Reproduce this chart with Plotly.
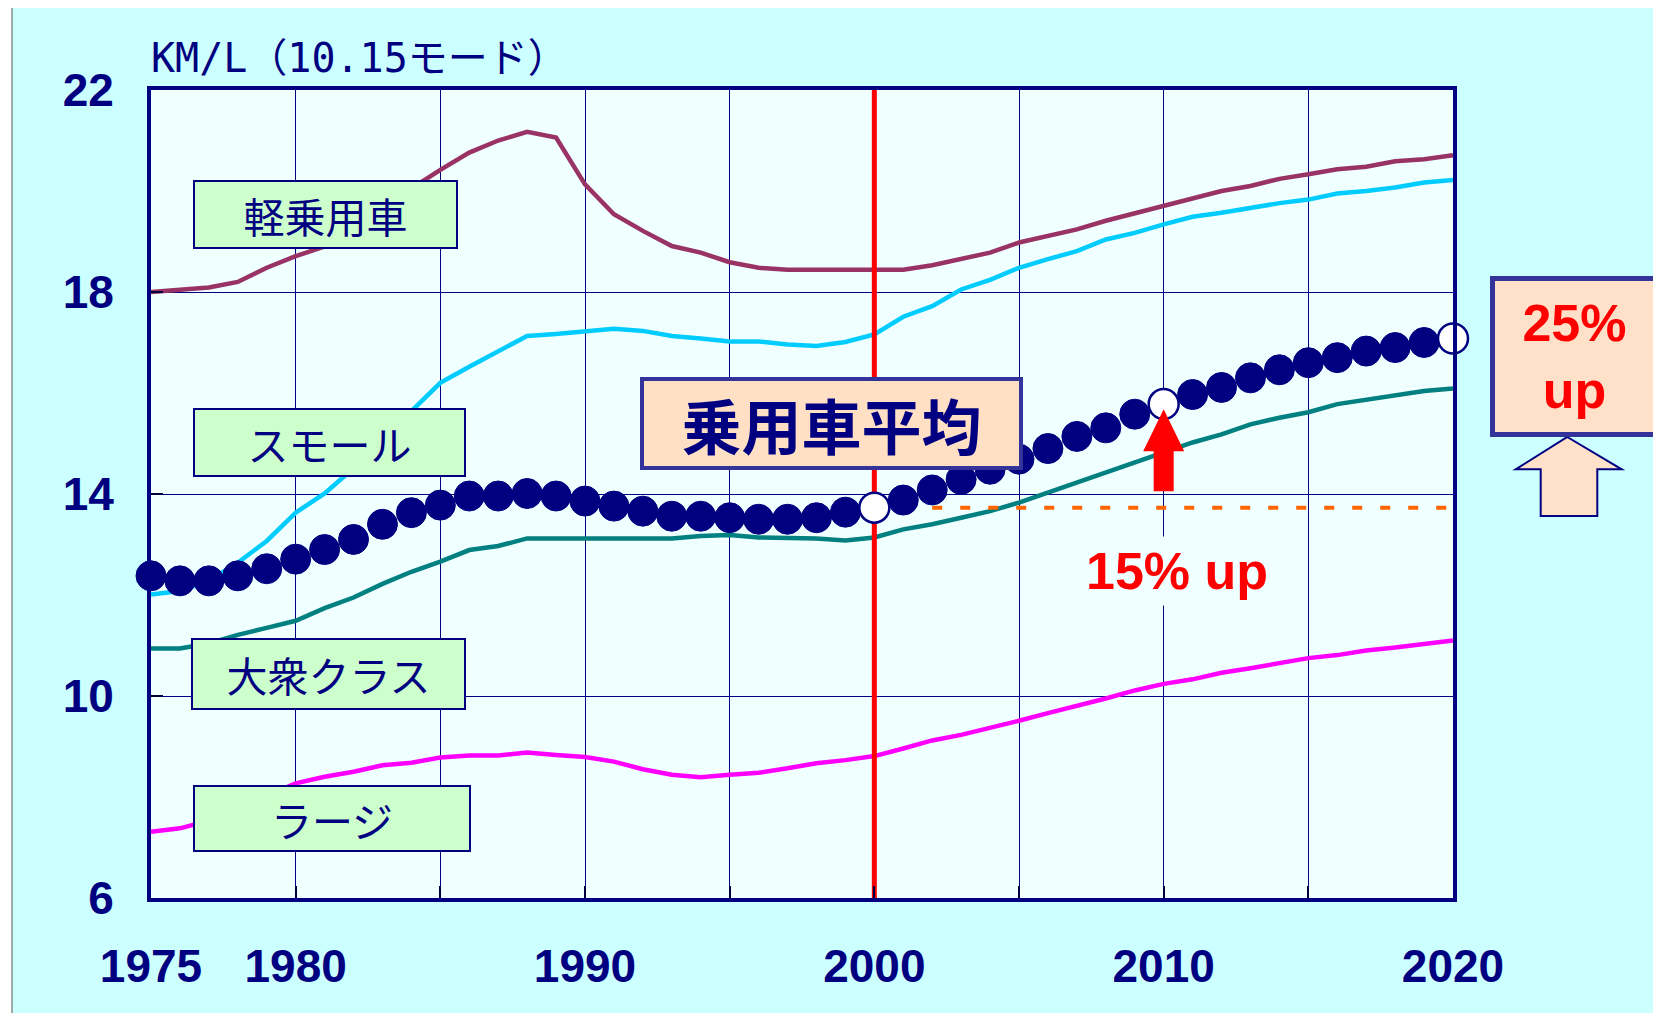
import plotly.graph_objects as go

# ---- data (km/L, 10.15 mode) ----
years = list(range(1975, 2021))

kei = [18.0, 18.04, 18.09, 18.2, 18.48, 18.71, 18.9, 19.3, 19.7, 20.05,
       20.42, 20.76, 21.0, 21.17, 21.06, 20.13, 19.54, 19.21, 18.91, 18.78,
       18.59, 18.48, 18.44, 18.44, 18.44, 18.44, 18.44, 18.53, 18.65, 18.78,
       18.98, 19.11, 19.24, 19.41, 19.56, 19.7, 19.85, 20.0, 20.1, 20.24,
       20.33, 20.43, 20.48, 20.59, 20.63, 20.71]

small = [12.01, 12.08, 12.28, 12.64, 13.07, 13.63, 14.01, 14.51, 15.08, 15.65,
         16.2, 16.52, 16.83, 17.13, 17.17, 17.21, 17.27, 17.23, 17.13, 17.08,
         17.02, 17.02, 16.96, 16.93, 17.01, 17.16, 17.51, 17.72, 18.05, 18.24,
         18.48, 18.65, 18.81, 19.04, 19.17, 19.34, 19.49, 19.57, 19.67, 19.76,
         19.83, 19.95, 20.0, 20.07, 20.17, 20.22]

taishu = [10.94, 10.94, 11.04, 11.21, 11.35, 11.49, 11.74, 11.95, 12.22, 12.46,
          12.66, 12.89, 12.97, 13.12, 13.12, 13.12, 13.12, 13.12, 13.12, 13.17,
          13.19, 13.14, 13.14, 13.12, 13.08, 13.14, 13.3, 13.4, 13.53, 13.66,
          13.83, 14.03, 14.22, 14.42, 14.62, 14.82, 15.02, 15.18, 15.38, 15.51,
          15.62, 15.78, 15.86, 15.95, 16.04, 16.09]

large = [7.31, 7.38, 7.53, 7.78, 8.02, 8.27, 8.4, 8.5, 8.63, 8.68,
         8.78, 8.82, 8.82, 8.88, 8.83, 8.79, 8.7, 8.55, 8.44, 8.39,
         8.44, 8.48, 8.57, 8.67, 8.73, 8.81, 8.96, 9.12, 9.23, 9.36,
         9.51, 9.66, 9.8, 9.95, 10.11, 10.24, 10.33, 10.46, 10.55, 10.65,
         10.75, 10.81, 10.9, 10.96, 11.04, 11.1]

average = [12.38, 12.28, 12.28, 12.38, 12.52, 12.71, 12.9, 13.1, 13.4, 13.63,
           13.78, 13.96, 13.96, 14.01, 13.96, 13.86, 13.76, 13.66, 13.56, 13.56,
           13.53, 13.5, 13.5, 13.53, 13.64, 13.73, 13.88, 14.08, 14.29, 14.49,
           14.69, 14.9, 15.14, 15.31, 15.58, 15.78, 15.97, 16.11, 16.3, 16.46,
           16.6, 16.7, 16.83, 16.9, 17.0, 17.08]

highlight_years = [2000, 2010, 2020]
base_year = 2000
dotted_from = 2002

grid_years = [1975, 1980, 1985, 1990, 1995, 2000, 2005, 2010, 2015, 2020]
year_labels = ['1975', '1980', '', '1990', '', '2000', '', '2010', '', '2020']
y_ticks = [6, 10, 14, 18, 22]

NAVY = '#000080'
W, H = 1661, 1013
BODY = 8  # page body margin around the plot div
PX_L, PX_R, PX_T, PX_B = 151, 1453, 90, 898  # plot area on screen
YEAR_PX = (PX_R - PX_L) / 45.0
VAL_PX = (PX_B - PX_T) / 16.0


def px_x(px):
    return (px - PX_L) / (PX_R - PX_L)


def px_y(py):
    return (PX_B - py) / (PX_B - PX_T)


avg_at = dict(zip(years, average))
base_val = avg_at[base_year]

fig = go.Figure()
for name, vals, col in [('軽乗用車', kei, '#993366'),
                        ('スモール', small, '#00CCFF'),
                        ('大衆クラス', taishu, '#008080'),
                        ('ラージ', large, '#FF00FF')]:
    fig.add_trace(go.Scatter(x=years, y=vals, name=name, mode='lines',
                             line=dict(color=col, width=4.5)))

# red line at 2000
fig.add_trace(go.Scatter(x=[base_year, base_year], y=[y_ticks[0], y_ticks[-1]],
                         mode='lines', line=dict(color='#FF0000', width=5),
                         hoverinfo='skip'))
# dotted level of the 2000 average
fig.add_trace(go.Scatter(x=[dotted_from, years[-1]], y=[base_val, base_val],
                         mode='lines', line=dict(color='#FF6600', width=4, dash='10px,18px'),
                         hoverinfo='skip'))

fig.add_trace(go.Scatter(x=years, y=average, name='乗用車平均', mode='markers',
                         cliponaxis=False,
                         marker=dict(size=30, color=NAVY, line=dict(color=NAVY, width=1))))
fig.add_trace(go.Scatter(x=highlight_years, y=[avg_at[y] for y in highlight_years],
                         mode='markers', cliponaxis=False,
                         marker=dict(size=30, color='white', line=dict(color=NAVY, width=2.5))))

axis_common = dict(showgrid=True, gridcolor=NAVY, gridwidth=1, zeroline=False,
                   showline=True, linecolor=NAVY, linewidth=4, mirror=True,
                   ticks='inside', ticklen=12, tickwidth=2, tickcolor='#000040',
                   tickfont=dict(family='Arial, Liberation Sans', size=46, color=NAVY,
                                 weight='bold'))
fig.update_xaxes(range=[years[0], years[-1]], tickvals=grid_years, ticktext=year_labels,
                 ticklabelstandoff=25, **axis_common)
fig.update_yaxes(range=[y_ticks[0], y_ticks[-1]], tickvals=y_ticks,
                 ticklabelstandoff=24, **axis_common)

annos = []
annos.append(dict(text='KM/L（10.15モード）', xref='paper', yref='paper',
                  x=px_x(149), y=px_y(58), xanchor='left', yanchor='middle',
                  showarrow=False,
                  font=dict(family='DejaVu Sans Mono, Noto Sans CJK JP', size=40, color=NAVY)))

for txt, cx, cy, bw, bh in [('軽乗用車', 325.5, 214.5, 265, 69),
                            ('スモール', 329.3, 442.8, 273, 69),
                            ('大衆クラス', 328.2, 674.2, 275, 72),
                            ('ラージ', 331.5, 818.3, 278, 67)]:
    annos.append(dict(text=txt, xref='paper', yref='paper', x=px_x(cx), y=px_y(cy),
                      xanchor='center', yanchor='middle', showarrow=False,
                      width=bw - 4, height=bh - 4, align='center', valign='middle',
                      bgcolor='#CCFFCC', bordercolor=NAVY, borderwidth=2, borderpad=0,
                      font=dict(family='Noto Sans CJK JP', size=41, color=NAVY)))

annos.append(dict(text='<b>乗用車平均</b>', xref='paper', yref='paper',
                  x=px_x(831.5), y=px_y(423.5), xanchor='center', yanchor='middle',
                  showarrow=False, width=375, height=85, align='center', valign='middle',
                  bgcolor='#FFE0C4', bordercolor='#333399', borderwidth=4, borderpad=0,
                  font=dict(family='Noto Sans CJK JP', size=60, color=NAVY)))

annos.append(dict(text='<b>15% up</b>', xref='paper', yref='paper',
                  x=px_x(1177), y=px_y(571), xanchor='center', yanchor='middle',
                  showarrow=False, width=230, height=66, bgcolor='#F0FFFF',
                  font=dict(family='Arial, Liberation Sans', size=52, color='#FF0000')))

annos.append(dict(text='<b>25%<br>up</b>', xref='paper', yref='paper',
                  x=px_x(1574.5), y=px_y(357), xanchor='center', yanchor='middle',
                  showarrow=False, width=159, height=151, align='center', valign='middle',
                  bgcolor='#FFE0C8', bordercolor='#333399', borderwidth=5, borderpad=0,
                  font=dict(family='Arial, Liberation Sans', size=52, color='#FF0000')))

shapes = []
# white page margin on the left and thin frame
shapes.append(dict(type='rect', xref='paper', yref='paper', x0=px_x(-20), x1=px_x(12),
                   y0=px_y(H + 20), y1=px_y(-20), fillcolor='white', line=dict(width=0),
                   layer='below'))
shapes.append(dict(type='line', xref='paper', yref='paper', x0=px_x(12), x1=px_x(12),
                   y0=px_y(BODY), y1=px_y(H + 20), line=dict(color='#555555', width=1)))

# red up arrow at 2010
ax = highlight_years[1]
tip = avg_at[ax] - 0.1
head = tip - 42 / VAL_PX
bottom = tip - 82 / VAL_PX
hs, hh = 10 / YEAR_PX, 20.5 / YEAR_PX
shapes.append(dict(type='path', xref='x', yref='y', layer='above',
                   path=(f'M {ax - hs},{bottom} L {ax - hs},{head} L {ax - hh},{head} '
                         f'L {ax},{tip} L {ax + hh},{head} L {ax + hs},{head} '
                         f'L {ax + hs},{bottom} Z'),
                   fillcolor='#FF0000', line=dict(width=0)))

# hollow arrow under 25% box
pts = [(1567.3, 437), (1621.7, 469.3), (1597.3, 469.3), (1597.3, 516),
       (1540.7, 516), (1540.7, 469.3), (1515.7, 469.3)]
path = 'M ' + ' L '.join(f'{px_x(a)},{px_y(b)}' for a, b in pts) + ' Z'
shapes.append(dict(type='path', xref='paper', yref='paper', path=path,
                   fillcolor='#FFE0C8', line=dict(color=NAVY, width=2)))

fig.update_layout(width=W, height=H,
                  margin=dict(l=PX_L - BODY, r=W - (PX_R - BODY),
                              t=PX_T - BODY, b=H - (PX_B - BODY), pad=0),
                  paper_bgcolor='#CCFFFF', plot_bgcolor='#F0FFFF',
                  showlegend=False, annotations=annos, shapes=shapes)

fig.write_html("out.html")
